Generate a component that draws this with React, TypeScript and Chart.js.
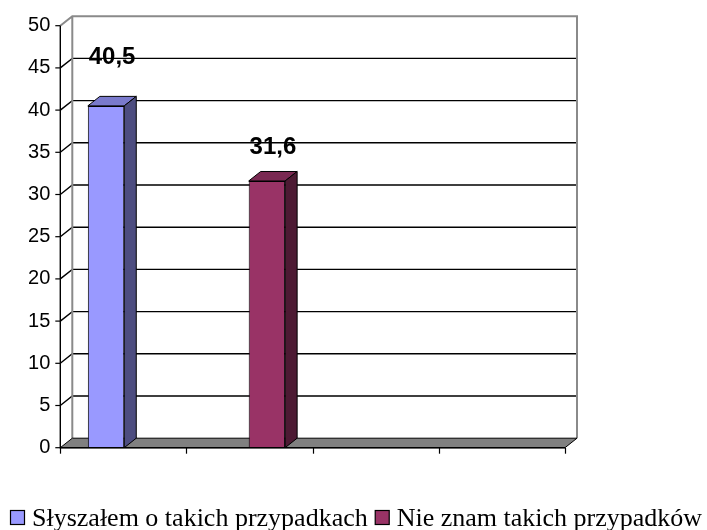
import React, { useEffect, useRef } from "react";
import { Chart, registerables } from "chart.js";

Chart.register(...registerables);

// ---- data ----
const categories = ["", "", "", ""];
const seriesNames = ["Słyszałem o takich przypadkach", "Nie znam takich przypadków"];
const series1Values: (number | null)[] = [40.5, null, null, null];
const series2Values: (number | null)[] = [null, 31.6, null, null];
const yMin = 0;
const yMax = 50;
const yStep = 5;

// ---- styles ----
const frontColors = ["#9999FF", "#993366"];
const topColors = ["#7A7ACC", "#7A2952"];
const sideColors = ["#4D4D80", "#4D1A33"];
const labelLift = [[49], [34]]; // px above bar top, per dataset (only visible bars)
const DX = 12;
const DY = 9.5;

const fmt = (v: number) => v.toFixed(1).replace(".", ",");

const threeD = {
  id: "threeD",
  beforeDatasetsDraw(chart: any) {
    const { ctx, chartArea: a, scales } = chart;
    const y = scales.y;
    ctx.save();
    ctx.fillStyle = "#ffffff";
    ctx.fillRect(a.left + DX, a.top - DY, a.right - a.left, a.bottom - a.top);
    ctx.strokeStyle = "#000000";
    ctx.lineWidth = 1.4;
    y.ticks.forEach((t: any) => {
      if (t.value <= yMin || t.value >= yMax) return;
      const py = y.getPixelForValue(t.value);
      ctx.beginPath();
      ctx.moveTo(a.left, py);
      ctx.lineTo(a.left + DX, py - DY);
      ctx.lineTo(a.right + DX, py - DY);
      ctx.stroke();
    });
    ctx.strokeStyle = "#8a8a8a";
    ctx.lineWidth = 2;
    ctx.beginPath();
    ctx.moveTo(a.left, a.top);
    ctx.lineTo(a.left + DX, a.top - DY);
    ctx.lineTo(a.right + DX, a.top - DY);
    ctx.lineTo(a.right + DX, a.bottom - DY);
    ctx.moveTo(a.left + DX, a.top - DY);
    ctx.lineTo(a.left + DX, a.bottom - DY);
    ctx.stroke();
    ctx.fillStyle = "#808080";
    ctx.strokeStyle = "#000000";
    ctx.lineWidth = 1;
    ctx.beginPath();
    ctx.moveTo(a.left, a.bottom);
    ctx.lineTo(a.right, a.bottom);
    ctx.lineTo(a.right + DX, a.bottom - DY);
    ctx.lineTo(a.left + DX, a.bottom - DY);
    ctx.closePath();
    ctx.fill();
    ctx.stroke();
    ctx.restore();
  },
  afterDatasetsDraw(chart: any) {
    const { ctx, chartArea: a, scales } = chart;
    const x = scales.x;
    ctx.save();
    ctx.strokeStyle = "#000000";
    ctx.lineWidth = 1;
    chart.data.datasets.forEach((ds: any, di: number) => {
      const meta = chart.getDatasetMeta(di);
      let vis = 0;
      meta.data.forEach((el: any, i: number) => {
        const v = ds.data[i];
        if (v === null || v === undefined) return;
        const p = el.getProps(["x", "y", "base", "width"], true);
        const l = p.x - p.width / 2;
        const r = p.x + p.width / 2;
        const t = p.y;
        const b = p.base;
        ctx.fillStyle = topColors[di];
        ctx.beginPath();
        ctx.moveTo(l, t);
        ctx.lineTo(l + DX, t - DY);
        ctx.lineTo(r + DX, t - DY);
        ctx.lineTo(r, t);
        ctx.closePath();
        ctx.fill();
        ctx.stroke();
        ctx.fillStyle = sideColors[di];
        ctx.beginPath();
        ctx.moveTo(r, t);
        ctx.lineTo(r + DX, t - DY);
        ctx.lineTo(r + DX, b - DY);
        ctx.lineTo(r, b);
        ctx.closePath();
        ctx.fill();
        ctx.stroke();
        const lift = (labelLift[di] && labelLift[di][vis]) || 40;
        ctx.fillStyle = "#000000";
        ctx.font = "bold 24px 'Liberation Sans', Arial, sans-serif";
        ctx.textAlign = "center";
        ctx.textBaseline = "middle";
        ctx.fillText(fmt(v), p.x + DX / 2, t - lift);
        vis++;
      });
    });
    ctx.strokeStyle = "#000000";
    ctx.lineWidth = 1.4;
    ctx.beginPath();
    ctx.moveTo(a.left, a.top);
    ctx.lineTo(a.left, a.bottom);
    ctx.lineTo(a.right, a.bottom);
    ctx.stroke();
    const y = scales.y;
    ctx.lineWidth = 1.2;
    y.ticks.forEach((tk: any) => {
      const py = y.getPixelForValue(tk.value);
      ctx.beginPath();
      ctx.moveTo(a.left - 5, py);
      ctx.lineTo(a.left, py);
      ctx.stroke();
    });
    const n = categories.length;
    for (let i = 0; i <= n; i++) {
      const px = Math.round(x.left + (i * (x.right - x.left)) / n) + 0.5;
      ctx.beginPath();
      ctx.moveTo(px, a.bottom);
      ctx.lineTo(px, a.bottom + 6);
      ctx.stroke();
    }
    ctx.restore();
  },
  afterDraw(chart: any) {
    const { ctx } = chart;
    ctx.save();
    ctx.font = "26px 'Liberation Serif', 'Times New Roman', serif";
    ctx.textBaseline = "alphabetic";
    ctx.textAlign = "left";
    let cx = 10;
    const boxY = 510;
    chart.data.datasets.forEach((ds: any, di: number) => {
      ctx.fillStyle = frontColors[di];
      ctx.fillRect(cx + 0.5, boxY + 0.5, 14, 14);
      ctx.strokeStyle = "#000000";
      ctx.lineWidth = 1.2;
      ctx.strokeRect(cx + 0.5, boxY + 0.5, 14, 14);
      const tx = cx + 22;
      ctx.fillStyle = "#000000";
      ctx.fillText(ds.label, tx, 526);
      cx = tx + ctx.measureText(ds.label).width + 7;
    });
    ctx.restore();
  },
};

export default function App() {
  const ref = useRef<HTMLCanvasElement | null>(null);
  useEffect(() => {
    if (!ref.current) return;
    const chart = new Chart(ref.current, {
      type: "bar",
      data: {
        labels: categories,
        datasets: [
          {
            label: seriesNames[0],
            data: series1Values,
            backgroundColor: frontColors[0],
            borderColor: "#000000",
            borderWidth: 1,
            categoryPercentage: 0.55,
            barPercentage: 1.05,
          },
          {
            label: seriesNames[1],
            data: series2Values,
            backgroundColor: frontColors[1],
            borderColor: "#000000",
            borderWidth: 1,
            categoryPercentage: 0.55,
            barPercentage: 1.05,
          },
        ],
      },
      options: {
        responsive: false,
        animation: false,
        layout: { padding: { left: 0, top: 25.7, right: 142, bottom: 82.3 } },
        plugins: {
          legend: { display: false },
          tooltip: { enabled: false },
        },
        scales: {
          x: { display: false },
          y: {
            min: yMin,
            max: yMax,
            ticks: {
              stepSize: yStep,
              color: "#000000",
              padding: 10,
              font: { family: "'Liberation Sans', Arial, sans-serif", size: 20 },
            },
            grid: { display: false, drawTicks: false },
            border: { display: false },
            afterFit(s: any) {
              s.width = 60.3;
            },
          },
        },
      },
      plugins: [threeD],
    });
    return () => chart.destroy();
  }, []);
  return (
    <div style={{ position: "absolute", left: 0, top: 0, width: 707, height: 530, background: "#fff" }}>
      <canvas ref={ref} width={707} height={530} style={{ display: "block" }} />
    </div>
  );
}
